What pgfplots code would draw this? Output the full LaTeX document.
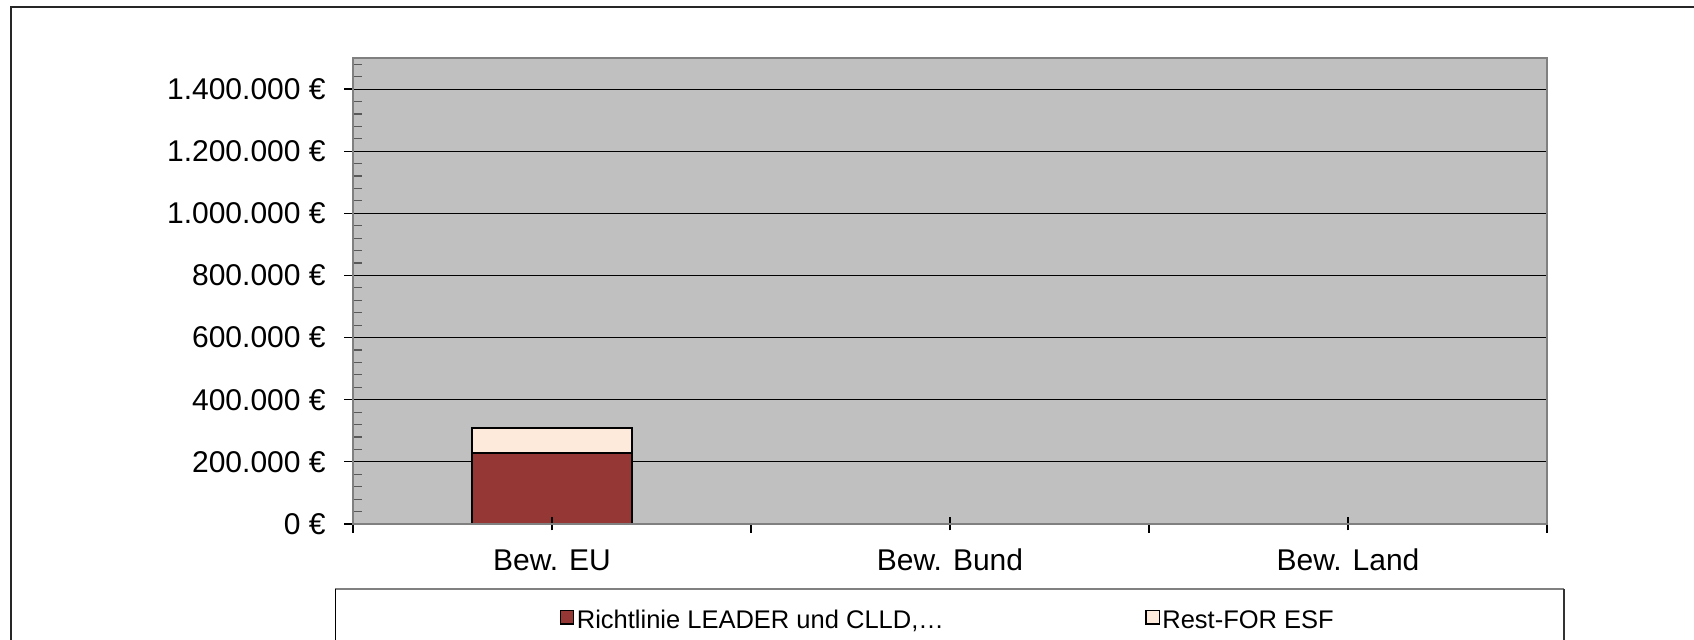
\documentclass[border=0pt]{standalone}
\usepackage{fontspec}
\setmainfont{Liberation Sans}
\usepackage{pgfplots}
\pgfplotsset{compat=1.18}
\definecolor{barred}{RGB}{149,55,53}
\definecolor{barlight}{RGB}{253,234,218}
\definecolor{plotbg}{RGB}{192,192,192}
\definecolor{bordergray}{RGB}{128,128,128}
\pgfplotsset{
  layers/mylayers/.define layer set={axis background,axis grid,pre main,main,axis ticks,axis lines,axis tick labels,axis descriptions,axis foreground}{/pgfplots/layers/standard},
  sqlegend/.style={legend image code/.code={\draw[##1, line width=0.6pt] (0pt,-2.2pt) rectangle (6.6pt,4.6pt);}}
}
\begin{document}
\begin{tikzpicture}
\draw[black!85, line width=0.75pt] (5.5pt,0pt) -- (5.5pt,316.5pt) -- (847pt,316.5pt);
\begin{axis}[
  at={(176.5pt,58pt)}, anchor=south west,
  scale only axis, width=597pt, height=233pt,
  set layers=mylayers,
  ybar stacked, bar width=0.4,
  xmin=0.5, xmax=3.5, ymin=0, ymax=1500000,
  axis background/.style={fill=plotbg},
  axis line style={draw=bordergray, line width=1pt},
  tick align=outside,
  major tick length=4.5pt,
  tick style={black, line width=0.6pt},
  xtick={0.5,1.5,2.5,3.5}, xticklabels={},
  extra x ticks={1,2,3},
  extra x tick labels={Bew. EU,Bew. Bund,Bew. Land},
  extra x tick style={tick align=center, major tick length=6.5pt},
  xtick pos=left, ytick pos=left,
  ytick={0,200000,400000,600000,800000,1000000,1200000,1400000},
  yticklabels={0 €,200.000 €,400.000 €,600.000 €,800.000 €,1.000.000 €,1.200.000 €,1.400.000 €},
  scaled y ticks=false,
  extra y ticks={40000,80000,120000,160000,240000,280000,320000,360000,440000,480000,520000,560000,640000,680000,720000,760000,840000,880000,920000,960000,1040000,1080000,1120000,1160000,1240000,1280000,1320000,1360000,1440000,1480000},
  extra y tick labels={},
  extra y tick style={grid=none, tick align=inside, tick style={black!65, line width=0.6pt}},
  ymajorgrids,
  major grid style={black, line width=0.5pt},
  yticklabel style={font=\fontsize{15}{18}\selectfont, anchor=east, inner sep=0pt, xshift=-9pt},
  xticklabel style={font=\fontsize{15}{18}\selectfont, anchor=base, yshift=-19.8pt},
  sqlegend,
  legend style={at={(axis description cs:0.1730,-0.2052)}, anchor=west, draw=none, fill=none, inner sep=0pt,
    font=\fontsize{12.75}{15.3}\selectfont, cells={anchor=west}, nodes={inner sep=1.25pt},
    /tikz/every even column/.append style={column sep=99.5pt}},
  legend columns=2,
]
\addplot[fill=barred, draw=black, line width=1pt, sqlegend] coordinates {(1,230000)};
\addlegendentry{\strut Richtlinie LEADER und CLLD,…}
\addplot[fill=barlight, draw=black, line width=1pt, sqlegend] coordinates {(1,80000)};
\addlegendentry{\strut Rest-FOR ESF}
\end{axis}
\draw[black!60, line width=1pt] (current axis.south west) -- (current axis.north west);
\draw[black, line width=1pt] (current axis.south west) -- (current axis.south east);
\draw[bordergray, line width=0.9pt] (167.7pt,25.65pt) -- (782pt,25.65pt);
\draw[black, line width=0.8pt] (167.7pt,0pt) -- (167.7pt,25.65pt);
\draw[black!80, line width=0.8pt] (782pt,0pt) -- (782pt,25.65pt);
\pgfresetboundingbox
\path[use as bounding box] (0pt,0pt) rectangle (847pt,320pt);
\end{tikzpicture}
\end{document}
